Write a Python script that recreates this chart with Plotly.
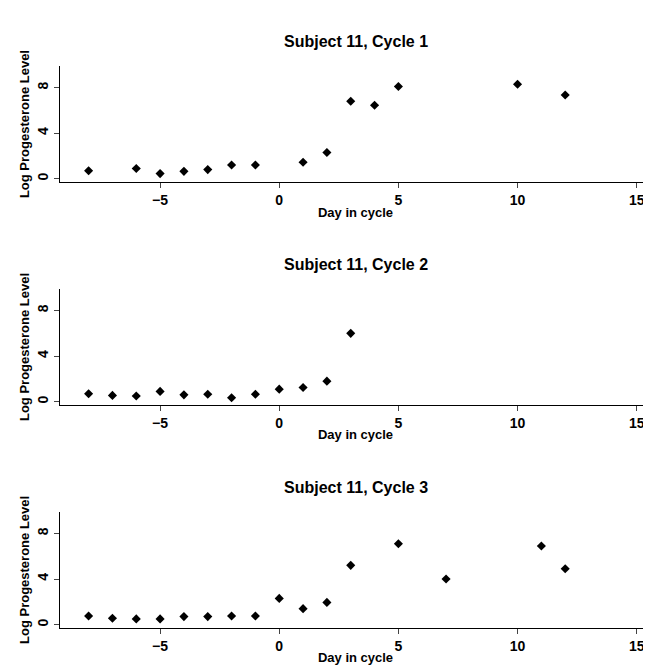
import plotly.graph_objects as go
from plotly.subplots import make_subplots

titles = ["Subject 11, Cycle 1", "Subject 11, Cycle 2", "Subject 11, Cycle 3"]
day1 = [-8, -6, -5, -4, -3, -2, -1, 1, 2, 3, 4, 5, 10, 12]
prog1 = [0.7, 0.9, 0.45, 0.65, 0.8, 1.2, 1.2, 1.45, 2.3, 6.8, 6.45, 8.1, 8.3, 7.35]
day2 = [-8, -7, -6, -5, -4, -3, -2, -1, 0, 1, 2, 3]
prog2 = [0.7, 0.55, 0.5, 0.9, 0.6, 0.65, 0.35, 0.65, 1.1, 1.25, 1.8, 6.0]
day3 = [-8, -7, -6, -5, -4, -3, -2, -1, 0, 1, 2, 3, 5, 7, 11, 12]
prog3 = [0.75, 0.55, 0.5, 0.5, 0.7, 0.7, 0.75, 0.75, 2.3, 1.4, 1.95, 5.2, 7.1, 4.0, 6.9, 4.9]

fig = make_subplots(rows=3, cols=1, vertical_spacing=0.19)
font = dict(family="Liberation Sans", size=14, color="black")
tfont = dict(family="Liberation Sans", size=13, color="black")

for i, (x, y) in enumerate([(day1, prog1), (day2, prog2), (day3, prog3)], start=1):
    fig.add_trace(go.Scatter(x=x, y=y, mode="markers",
                             marker=dict(symbol="diamond", size=7, color="black"),
                             showlegend=False), row=i, col=1)
    fig.update_xaxes(range=[-9.2, 15.6], tickvals=[-5, 0, 5, 10, 15],
                     ticktext=["<b>−5</b>", "<b>0</b>", "<b>5</b>", "<b>10</b>", "<b>15</b>"],
                     showline=True, linecolor="black", ticks="outside", ticklen=5,
                     showgrid=False, zeroline=False, tickfont=font,
                     title=dict(text="<b>Day in cycle</b>", font=tfont, standoff=0),
                     row=i, col=1)
    fig.update_yaxes(range=[-0.3, 9.9], tickvals=[0, 4, 8],
                     ticktext=["<b>0</b>", "<b>4</b>", "<b>8</b>"], tickangle=-90,
                     showline=True, linecolor="black", ticks="outside", ticklen=5,
                     showgrid=False, zeroline=False, tickfont=font,
                     title=dict(text="<b>Log Progesterone Level</b>", font=tfont, standoff=2),
                     row=i, col=1)

doms = [fig.layout.yaxis.domain, fig.layout.yaxis2.domain, fig.layout.yaxis3.domain]
for t, d in zip(titles, doms):
    fig.add_annotation(text="<b>" + t + "</b>", x=0.5, xref="paper", y=d[1] + 0.025,
                       yref="paper", yanchor="bottom", showarrow=False,
                       font=dict(family="Liberation Sans", size=16, color="black"))

fig.update_layout(width=651, height=665, plot_bgcolor="white", paper_bgcolor="white",
                  margin=dict(l=52, r=8, t=58, b=45))
fig.write_html("out.html")
